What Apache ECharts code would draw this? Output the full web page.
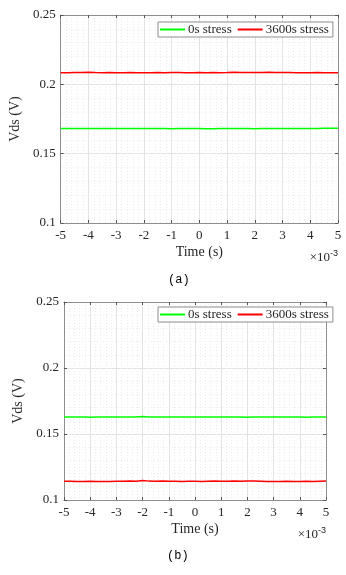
<!DOCTYPE html>
<html><head><meta charset="utf-8">
<script src="https://cdn.jsdelivr.net/npm/echarts@6/dist/echarts.min.js"></script>
<style>html,body{margin:0;padding:0;background:#fff}#c{width:346px;height:575px}</style>
</head><body><div id="c"></div>
<script>
// time axis in units of 1e-3 s
var times = [-5,-4.75,-4.5,-4.25,-4,-3.75,-3.5,-3.25,-3,-2.75,-2.5,-2.25,-2,-1.75,-1.5,-1.25,-1,-0.75,-0.5,-0.25,0,0.25,0.5,0.75,1,1.25,1.5,1.75,2,2.25,2.5,2.75,3,3.25,3.5,3.75,4,4.25,4.5,4.75,5];
var xTicks = [-5,-4,-3,-2,-1,0,1,2,3,4,5];
var yTicks = [0.1,0.15,0.2,0.25];
var seriesNames = ['0s stress','3600s stress'];
// panel (a)
var aGreen = [0.1682,0.1681,0.1682,0.1681,0.1682,0.1682,0.1681,0.1682,0.1681,0.1682,0.1682,0.1681,0.1682,0.1681,0.1682,0.1681,0.1680,0.1682,0.1681,0.1682,0.1681,0.1680,0.1679,0.1681,0.1682,0.1681,0.1682,0.1681,0.1680,0.1681,0.1682,0.1681,0.1682,0.1681,0.1682,0.1681,0.1682,0.1681,0.1683,0.1684,0.1683];
var aRed = [0.2084,0.2084,0.2085,0.2086,0.2088,0.2085,0.2084,0.2085,0.2084,0.2084,0.2085,0.2084,0.2083,0.2084,0.2085,0.2084,0.2085,0.2086,0.2084,0.2084,0.2085,0.2084,0.2085,0.2084,0.2085,0.2087,0.2085,0.2086,0.2085,0.2086,0.2087,0.2085,0.2086,0.2085,0.2084,0.2083,0.2084,0.2085,0.2084,0.2083,0.2083];
// panel (b)
var bGreen = [0.1629,0.1628,0.1629,0.1628,0.1627,0.1628,0.1629,0.1628,0.1629,0.1628,0.1629,0.1628,0.1632,0.1629,0.1628,0.1629,0.1628,0.1629,0.1628,0.1628,0.1629,0.1628,0.1629,0.1628,0.1629,0.1628,0.1629,0.1628,0.1627,0.1628,0.1629,0.1628,0.1628,0.1629,0.1628,0.1629,0.1628,0.1627,0.1628,0.1629,0.1629];
var bRed = [0.1142,0.1142,0.1141,0.1140,0.1142,0.1141,0.1140,0.1141,0.1142,0.1142,0.1143,0.1142,0.1147,0.1143,0.1142,0.1143,0.1142,0.1142,0.1141,0.1142,0.1142,0.1141,0.1142,0.1143,0.1142,0.1142,0.1143,0.1142,0.1143,0.1143,0.1142,0.1141,0.1140,0.1141,0.1142,0.1141,0.1141,0.1142,0.1141,0.1142,0.1143];

function pairs(v){return times.map(function(t,i){return [t,v[i]];});}
var FONT = 'Liberation Serif';
var AX = '#262626';
var LINE = '#8f8f8f';
function xAx(gi, pos){
  var main = pos==='bottom';
  return {type:'value',gridIndex:gi,position:pos,min:-5,max:5,interval:1,
    axisLine:{show:true,onZero:false,lineStyle:{color:LINE,width:1}},
    axisTick:{show:true,inside:true,length:3,lineStyle:{color:'#555'}},
    axisLabel:{show:main,color:AX,fontFamily:FONT,fontSize:13,margin:6,
      formatter:function(v){return xTicks.indexOf(v)>=0?String(v):'';}},
    splitLine:{show:main,lineStyle:{color:'#e3e3e3',width:1}},
    minorTick:{show:false,splitNumber:5},
    minorSplitLine:{show:main,lineStyle:{color:'#ececec',type:[1,2],width:1}},
    name: main?'Time (s)':'',nameLocation:'middle',nameGap:22,
    nameTextStyle:{color:AX,fontFamily:FONT,fontSize:14}};
}
function yAx(gi, pos, gap){
  var main = pos==='left';
  return {type:'value',gridIndex:gi,position:pos,min:0.1,max:0.25,interval:0.05,
    axisLine:{show:true,onZero:false,lineStyle:{color:LINE,width:1}},
    axisTick:{show:true,inside:true,length:3,lineStyle:{color:'#555'}},
    axisLabel:{show:main,color:AX,fontFamily:FONT,fontSize:13,margin:5,
      formatter:function(v){var r=Math.round(v*100)/100;return yTicks.indexOf(r)>=0?String(r):'';}},
    splitLine:{show:main,lineStyle:{color:'#e3e3e3',width:1}},
    minorTick:{show:false,splitNumber:5},
    minorSplitLine:{show:main,lineStyle:{color:'#ececec',type:[1,2],width:1}},
    name: main?'Vds (V)':'',nameLocation:'middle',nameGap:gap,
    nameTextStyle:{color:AX,fontFamily:FONT,fontSize:14}};
}
function ser(name, data, color, xi, yi){
  return {name:name,type:'line',xAxisIndex:xi,yAxisIndex:yi,data:pairs(data),
    symbol:'none',lineStyle:{color:color,width:1.5},itemStyle:{color:color},animation:false};
}
function legend(left, top){
  return {left:left,top:top,orient:'horizontal',data:seriesNames,icon:'rect',itemWidth:25,itemHeight:2,itemGap:6,
    padding:[1,4,1,2],backgroundColor:'#fff',borderColor:'#8c8c8c',borderWidth:1,borderRadius:0,
    textStyle:{fontFamily:FONT,fontSize:13,color:'#262626',padding:[0,0,0,-2]},selectedMode:false};
}
var chart = echarts.init(document.getElementById('c'));
chart.setOption({
  backgroundColor:'#fff',
  animation:false,
  grid:[{left:57,right:8,top:15,height:208},{left:64,right:20,top:302,height:198}],
  xAxis:[xAx(0,'bottom'),xAx(0,'top'),xAx(1,'bottom'),xAx(1,'top')],
  yAxis:[yAx(0,'left',38),yAx(0,'right',0),yAx(1,'left',32),yAx(1,'right',0)],
  legend:[legend(158,22),legend(158,307)],
  series:[
    ser(seriesNames[0],aGreen,'#00ff00',0,0),
    ser(seriesNames[1],aRed,'#ff0000',0,0),
    ser(seriesNames[0],bGreen,'#00ff00',2,2),
    ser(seriesNames[1],bRed,'#ff0000',2,2)
  ],
  graphic:[
    {type:'text',right:8,top:249,style:{text:'×10{s|-3}',rich:{s:{fontSize:9,verticalAlign:'top',padding:[0,0,8,0]}},font:'13px "Liberation Serif"',fill:AX}},
    {type:'text',right:20,top:526,style:{text:'×10{s|-3}',rich:{s:{fontSize:9,verticalAlign:'top',padding:[0,0,8,0]}},font:'13px "Liberation Serif"',fill:AX}},
    {type:'text',left:168,top:274,style:{text:'(a)',font:'12px "Liberation Mono"',fill:'#000'}},
    {type:'text',left:167,top:550,style:{text:'(b)',font:'12px "Liberation Mono"',fill:'#000'}}
  ]
});
</script></body></html>
